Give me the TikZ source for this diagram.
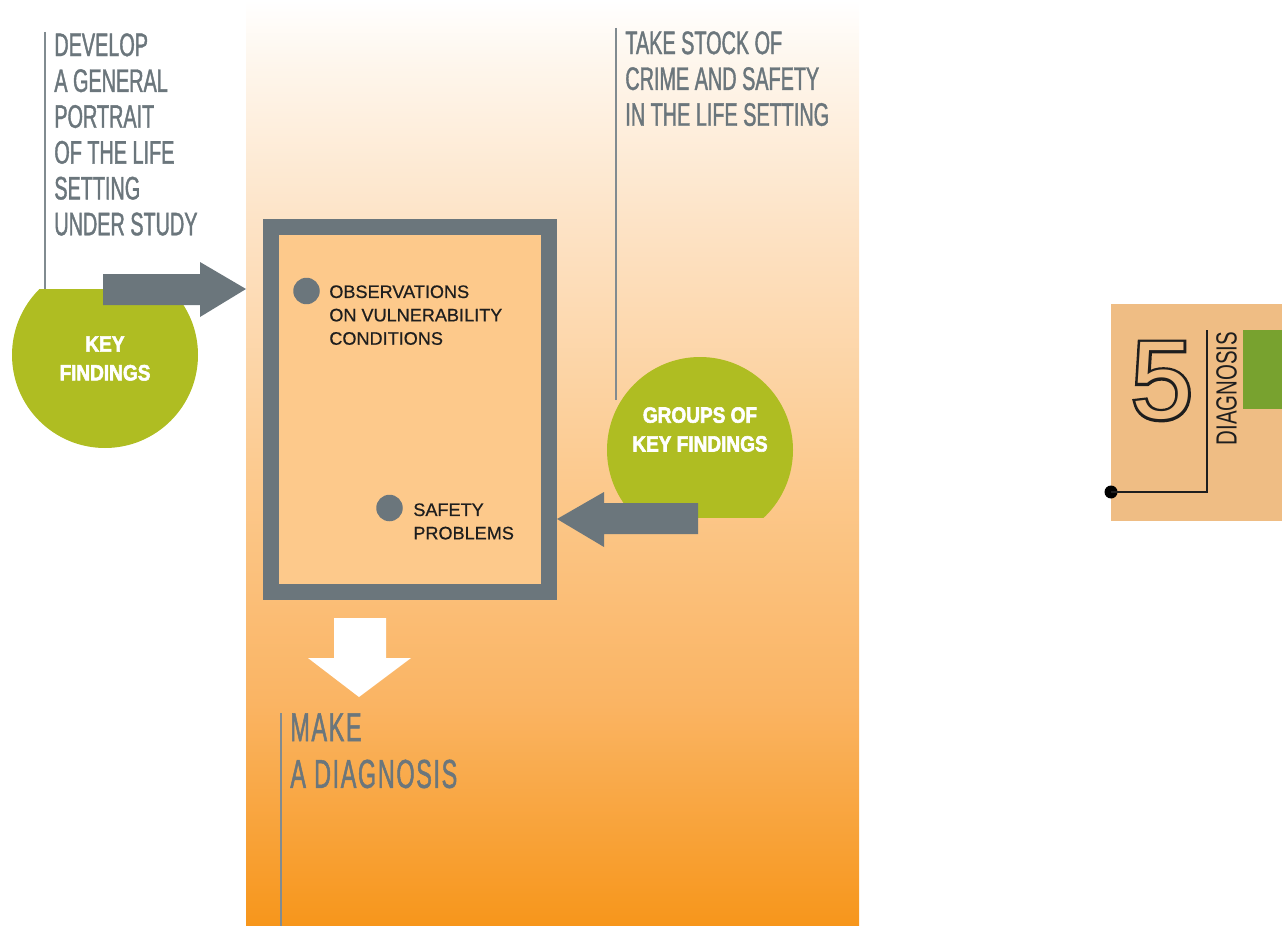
\documentclass[tikz,border=0pt]{standalone}
\usepackage{fontspec}
\setmainfont{Liberation Sans}
\newfontfamily\headfont[FakeStretch=0.61,FakeBold=1.2]{Liberation Sans}
\newfontfamily\bigheadfont[FakeStretch=0.58,LetterSpace=4,FakeBold=1.2]{Liberation Sans}
\newfontfamily\tagfont[FakeStretch=0.7]{Liberation Sans}
\newfontfamily\circfont[FakeStretch=0.86,BoldFeatures={FakeBold=2.6}]{Liberation Sans}
\newfontfamily\itemfont[FakeBold=0.6]{Liberation Sans}
\newfontfamily\numfont[FakeBold=5]{Liberation Sans}
\usetikzlibrary{positioning}
\usepackage{xcolor}
\definecolor{slate}{HTML}{6B767C}
\definecolor{lime}{HTML}{AFBD22}
\definecolor{paleorange}{HTML}{FDC98B}
\definecolor{tabtan}{HTML}{EFBD84}
\definecolor{tabgreen}{HTML}{78A22F}
\definecolor{ink}{HTML}{1E1E1E}
\definecolor{bgA}{HTML}{F7961B}
\definecolor{bgB}{HTML}{FAB463}
\definecolor{bgC}{HTML}{FCCB91}
\definecolor{bgD}{HTML}{FDE2C4}
\definecolor{bgE}{HTML}{FEF6EC}
% the shaded path covers 25bp--75bp of the shading
\pgfdeclareverticalshading{bgfade}{100bp}{color(0bp)=(bgA); color(25bp)=(bgA); color(37bp)=(bgB); color(50bp)=(bgC); color(62.5bp)=(bgD); color(71.5bp)=(bgE); color(75bp)=(white); color(100bp)=(white)}

\begin{document}
\begin{tikzpicture}[x=0.02cm,y=-0.02cm,
  heading/.style={anchor=north west,inner sep=0,align=left,text=slate,font=\headfont\fontsize{18.5}{20.4}\selectfont},
  findtext/.style={text=white,align=center,inner sep=0,font=\circfont\bfseries\fontsize{12.6}{16.4}\selectfont},
  itemtext/.style={anchor=north west,inner sep=0,align=left,text=ink,font=\itemfont\fontsize{10.3}{13.3}\selectfont},
  bullet/.style={circle,fill=slate,inner sep=0,minimum size=0.53cm},
  rule/.style={draw=slate!85,line width=0.6pt}]
\useasboundingbox (0,0) rectangle (1282,926);
\shade[shading=bgfade] (246,0) rectangle (859,926);

% left column
\coordinate (devrule) at (45,32);
\draw[rule] (devrule) -- (45,300);
\node[heading] (develop) at (54,33) {DEVELOP\\A GENERAL\\PORTRAIT\\OF THE LIFE\\SETTING\\UNDER STUDY};
\begin{scope}
  \clip (0,289) rectangle (246,460);
  \fill[lime] (105,355) circle (93);
\end{scope}
\node[findtext] (keyfind) at (105,358.5) {KEY\\FINDINGS};
\fill[slate] (103,274) -- (200,274) -- (200,262) -- (246,289) -- (200,317) -- (200,305) -- (103,305) -- cycle;

% the board
\node[draw=slate,line width=9.35pt,fill=paleorange,minimum width=5.56cm,minimum height=7.31cm] (board) at (410,409.5) {};
\node[bullet] (obsdot) at (306.5,291) {};
\node[itemtext] (obs) at (329,285) {OBSERVATIONS\\ON VULNERABILITY\\CONDITIONS};
\node[bullet] (safedot) at (389.5,508) {};
\node[itemtext] (safety) at (413,503) {SAFETY\\PROBLEMS};

% right column
\coordinate (stockrule) at (616,28);
\draw[rule] (stockrule) -- (616,400);
\node[heading] (stock) at (625,31) {TAKE STOCK OF\\CRIME AND SAFETY\\IN THE LIFE SETTING};
\begin{scope}
  \clip (560,340) rectangle (860,517);
  \fill[lime] (700,450) circle (93);
\end{scope}
\node[findtext] (groups) at (700,429.5) {GROUPS OF\\KEY FINDINGS};
\fill[slate] (698,503) -- (604,503) -- (604,492) -- (557,519) -- (604,547) -- (604,534) -- (698,534) -- cycle;

% outcome
\fill[white] (334,618) -- (386,618) -- (386,658) -- (411,658) -- (359,697) -- (308,658) -- (334,658) -- cycle;
\coordinate (diagrule) at (281,713);
\draw[rule] (diagrule) -- (281,926);
\node[heading,font=\bigheadfont\fontsize{23}{26.6}\selectfont] (diagnose) at (290,713) {MAKE\\A DIAGNOSIS};

% chapter tab
\fill[tabtan] (1111,304) rectangle (1282,521);
\fill[tabgreen] (1243,330) rectangle (1282,409);
\node[inner sep=0,text=ink,font=\numfont\fontsize{63}{63}\selectfont] (num) at (1162,381) {5};
\node[inner sep=0,text=tabtan,font=\fontsize{63}{63}\selectfont] at (num.center) {5};
\node[rotate=90,inner sep=0,text=ink,font=\tagfont\fontsize{16.6}{18}\selectfont] (tabtitle) at (1226.5,388.5) {DIAGNOSIS};
\coordinate (tabtop) at (1207,330);
\coordinate (tabcorner) at (1207,492);
\node[circle,fill=black,inner sep=0,minimum size=0.26cm] (tabdot) at (1111,492) {};
\draw[ink,line width=0.8pt] (tabtop) -- (tabcorner) -- (tabdot.center);
\end{tikzpicture}
\end{document}
